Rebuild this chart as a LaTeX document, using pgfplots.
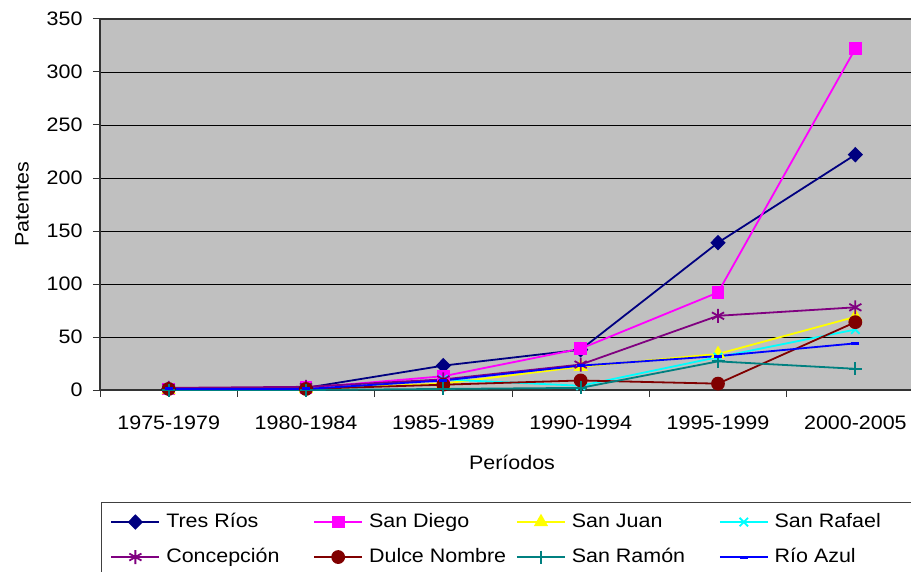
\documentclass[border=0pt]{standalone}
\usepackage{pgfplots}
\pgfplotsset{compat=1.18}
\usepackage{fontspec}
\setmainfont{Liberation Sans}[FakeStretch=1.1]
\definecolor{bgray}{RGB}{192,192,192}
\definecolor{cTres}{RGB}{0,0,128}
\definecolor{cDiego}{RGB}{255,0,255}
\definecolor{cJuan}{RGB}{255,255,0}
\definecolor{cRafael}{RGB}{0,255,255}
\definecolor{cConc}{RGB}{128,0,128}
\definecolor{cDulce}{RGB}{128,0,0}
\definecolor{cRamon}{RGB}{0,128,128}
\definecolor{cAzul}{RGB}{0,0,255}
\newcommand{\lf}{\fontsize{19.5}{23}\selectfont}
\newcommand{\legtext}[1]{\makebox[144pt][l]{#1}}
\begin{document}
\begin{tikzpicture}
\useasboundingbox (0pt,0pt) rectangle (911pt,571pt);
\clip (0pt,0pt) rectangle (911pt,571pt);
\begin{axis}[
  at={(100pt,181pt)}, anchor=south west,
  scale only axis, width=824pt, height=371pt,
  xmin=-0.5, xmax=5.5, ymin=0, ymax=350,
  clip=false,
  xtick={-0.5,0.5,1.5,2.5,3.5,4.5},
  xticklabels={1975-1979,1980-1984,1985-1989,1990-1994,1995-1999,2000-2005},
  x tick label style={xshift=68.7pt, yshift=-15pt},
  y tick label style={xshift=-7pt},
  ytick={0,50,...,350},
  tick pos=left,
  tick align=outside, major tick length=7pt,
  tick style={black!80, line width=1pt},
  ymajorgrids, grid style={black, line width=0.8pt},
  axis background/.style={fill=bgray},
  axis line style={black!80, line width=1.2pt},
  tick label style={font=\lf},
  label style={font=\lf},
  /pgf/number format/assume math mode=true,
  ylabel={Patentes},
  ylabel style={at={(axis description cs:-0.0947,0.5)}, anchor=center},
  xlabel={Períodos},
  xlabel style={at={(axis description cs:0.5,-0.194)}, anchor=center},
  legend columns=4,
  legend cell align=left,
  legend image code/.code={\draw[mark repeat=2,mark phase=2,#1] plot coordinates {(0pt,0pt) (24pt,0pt) (48pt,0pt)};},
  legend style={at={(axis description cs:0.0012,-0.302)}, anchor=north west,
    draw=black!75, line width=1pt, fill=white, inner xsep=9pt, inner ysep=2pt,
    font=\lf,
    /tikz/every odd column/.append style={column sep=3pt},
    /tikz/every even column/.append style={column sep=0pt},
    nodes={inner xsep=3pt, inner ysep=8.5pt, text height=14pt, text depth=4pt}},
]
\addplot[cTres, line width=1.8pt, mark=diamond*, mark size=6.5pt, mark options={xscale=1.3,solid}] coordinates {(0,1) (1,2) (2,23) (3,38) (4,139) (5,222)};
\addlegendentry{\legtext{Tres Ríos}}
\addplot[cDiego, line width=1.8pt, mark=square*, mark size=5.5pt] coordinates {(0,1) (1,2) (2,13) (3,39) (4,92) (5,322)};
\addlegendentry{\legtext{San Diego}}
\addplot[cJuan, line width=1.8pt, mark=triangle*, mark size=6.5pt] coordinates {(0,0) (1,1) (2,6) (3,22) (4,34) (5,69)};
\addlegendentry{\legtext{San Juan}}
\addplot[cRafael, line width=1.8pt, mark=x, mark size=6pt] coordinates {(0,0) (1,0) (2,10) (3,4) (4,31) (5,57)};
\addlegendentry{\legtext{San Rafael}}
\addplot[cConc, line width=1.8pt, mark=asterisk, mark size=7pt] coordinates {(0,2) (1,3) (2,10) (3,24) (4,70) (5,78)};
\addlegendentry{\legtext{Concepción}}
\addplot[cDulce, line width=1.8pt, mark=*, mark size=6pt] coordinates {(0,1) (1,1) (2,5) (3,9) (4,6) (5,64)};
\addlegendentry{\legtext{Dulce Nombre}}
\addplot[cRamon, line width=1.8pt, mark=+, mark size=6.5pt] coordinates {(0,0) (1,0) (2,1) (3,2) (4,27) (5,20)};
\addlegendentry{\legtext{San Ramón}}
\addplot[cAzul, line width=1.8pt, mark=-, mark size=4pt, mark options={line width=3pt}] coordinates {(0,1) (1,1) (2,9) (3,23) (4,32) (5,44)};
\addlegendentry{\legtext{Río Azul}}
\end{axis}
\end{tikzpicture}
\end{document}
